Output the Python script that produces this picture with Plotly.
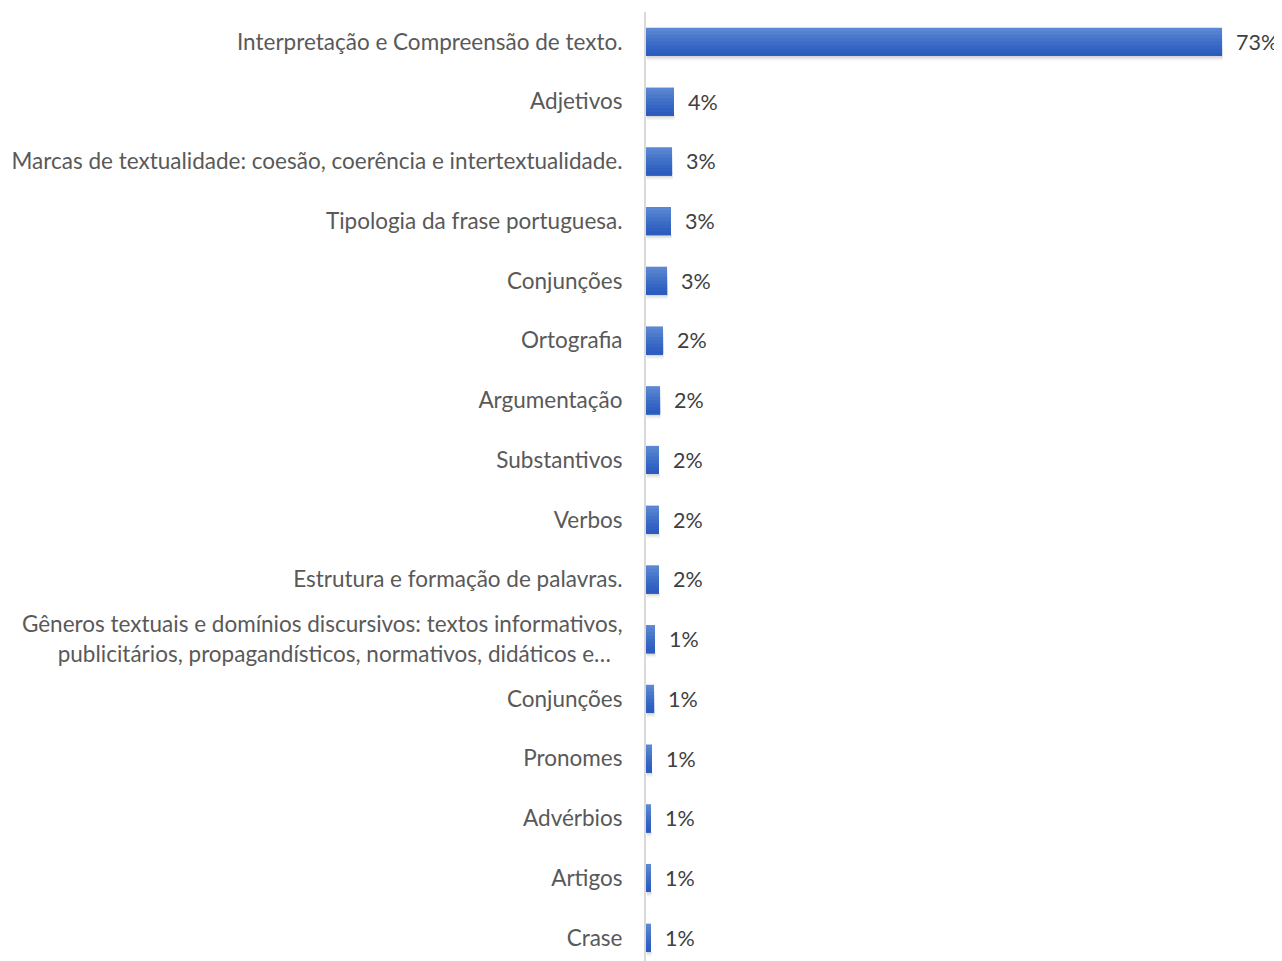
import plotly.graph_objects as go

categories = [
    "Interpretação e Compreensão de texto.",
    "Adjetivos",
    "Marcas de textualidade: coesão, coerência e intertextualidade.",
    "Tipologia da frase portuguesa.",
    "Conjunções",
    "Ortografia",
    "Argumentação",
    "Substantivos",
    "Verbos",
    "Estrutura e formação de palavras.",
    "Gêneros textuais e domínios discursivos: textos informativos,<br>publicitários, propagandísticos, normativos, didáticos e…\u00a0\u00a0",
    "Conjunções",
    "Pronomes",
    "Advérbios",
    "Artigos",
    "Crase",
]
values = [0.73, 0.0355, 0.033, 0.0317, 0.0267, 0.0216, 0.0178, 0.0165,
          0.0165, 0.0165, 0.0114, 0.0102, 0.0076, 0.0063, 0.0063, 0.0063]

positions = list(range(len(categories)))
n = len(categories)

bar_w = 0.47
gradient = ["#5b86d3", "#5380cf", "#4b79cc", "#4372c9", "#3c6cc6",
            "#3566c3", "#3060c1", "#2c5cbe"]

fig = go.Figure()
# soft shadow below each bar
for k, alpha in enumerate([0.16, 0.09, 0.04]):
    fig.add_trace(go.Bar(
        x=values, y=positions, orientation="h",
        marker=dict(color=f"rgba(0,0,0,{alpha})", line=dict(width=0)),
        width=0.025, offset=bar_w / 2 + k * 0.025, base=0.0008,
        hoverinfo="skip", showlegend=False,
    ))
# gradient bar: overlapping layers, each from its start down to the bar bottom
strip = bar_w / len(gradient)
for i, col in enumerate(gradient):
    fig.add_trace(go.Bar(
        x=values, y=positions, orientation="h",
        marker=dict(color=col, line=dict(width=0)),
        width=bar_w - i * strip, offset=-bar_w / 2 + i * strip,
        hoverinfo="skip", showlegend=False,
    ))
# labels
fig.add_trace(go.Bar(
    x=values, y=positions, orientation="h",
    marker=dict(color="rgba(0,0,0,0)", line=dict(width=0)),
    width=bar_w,
    texttemplate="  %{x:.0%}", textposition="outside",
    textfont=dict(family="Lato", size=21.5, color="#404040"),
    cliponaxis=False, showlegend=False,
))

fig.update_layout(
    width=1274, height=953,
    margin=dict(l=638, r=0, t=4, b=0),
    paper_bgcolor="white", plot_bgcolor="white",
    barmode="overlay",
    font=dict(family="Lato", size=22.5, color="#595959"),
    xaxis=dict(range=[0, 0.806], showgrid=False, zeroline=False,
               showticklabels=False, showline=False),
    yaxis=dict(range=[n - 0.61, -0.5], tickmode="array",
               tickvals=positions, ticktext=categories,
               showgrid=False, zeroline=False, showline=True,
               linecolor="#d9d9d9", linewidth=2,
               ticks="", ticklabelstandoff=17, automargin=False,
               tickfont=dict(family="Lato", size=22.5, color="#595959")),
)

fig.write_html("out.html")
